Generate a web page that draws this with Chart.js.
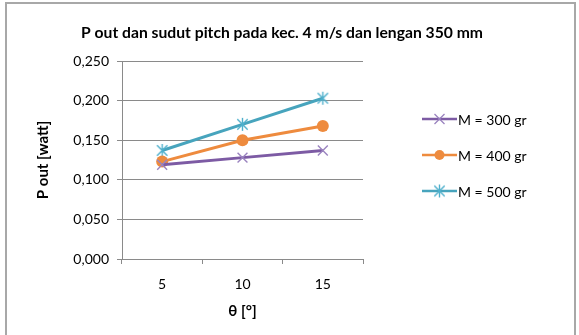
<!DOCTYPE html>
<html>
<head>
<meta charset="utf-8">
<script src="https://cdn.jsdelivr.net/npm/chart.js@4/dist/chart.umd.min.js"></script>
<style>
  html, body { margin: 0; padding: 0; background: #ffffff; }
  #wrap { position: relative; width: 579px; height: 335px; overflow: hidden; }
  #frame { position: absolute; left: 5px; top: 2px; width: 571px; height: 340px;
           border: 2px solid #a8a8a8; box-sizing: border-box; }
  canvas { position: absolute; left: 0; top: 0; }
</style>
</head>
<body>
<div id="wrap">
  <canvas id="c" width="579" height="335"></canvas>
  <div id="frame"></div>
</div>
<script>
// Pitch angle (degrees)
const categories = ['5', '10', '15'];
// Output power (watt) for each load mass
const seriesM300 = [0.119, 0.128, 0.137];
const seriesM400 = [0.123, 0.150, 0.168];
const seriesM500 = [0.137, 0.170, 0.203];
const seriesNames = ['M = 300 gr', 'M = 400 gr', 'M = 500 gr'];
const yTicks = [0, 0.05, 0.10, 0.15, 0.20, 0.25];

const chartTitle = 'P out dan sudut pitch pada kec. 4 m/s dan lengan 350 mm';
const yTitle = 'P out [watt]';
const xTitle = 'θ [°]';

const FONT = 'Lato, "Open Sans", sans-serif';

// Asterisk marker: an X with a vertical stroke through it
function asterisk(color, r) {
  const s = r * 2 + 4;
  const cv = document.createElement('canvas');
  cv.width = s; cv.height = s;
  const g = cv.getContext('2d');
  const c = s / 2;
  g.strokeStyle = color;
  g.lineWidth = 1.4;
  g.beginPath();
  g.moveTo(c - r * 0.8, c - r * 0.8); g.lineTo(c + r * 0.8, c + r * 0.8);
  g.moveTo(c + r * 0.8, c - r * 0.8); g.lineTo(c - r * 0.8, c + r * 0.8);
  g.moveTo(c, c - r); g.lineTo(c, c + r);
  g.stroke();
  return cv;
}

const purple = '#7d5ba4';
const orange = '#ee8b3e';
const teal = '#47a4bd';

const starImg = asterisk('#4fb0cc', 6.5);

// Title, and a legend with a line sample and marker for each series
const decorPlugin = {
  id: 'decor',
  afterDraw(chart) {
    const ctx = chart.ctx;
    const area = chart.chartArea;
    ctx.save();
    ctx.fillStyle = '#000';
    ctx.font = 'bold 15.7px ' + FONT;
    ctx.textAlign = 'center';
    ctx.textBaseline = 'middle';
    ctx.fillText(chartTitle, 282, 33);

    const x0 = area.right + 59;
    const x1 = x0 + 35;
    chart.data.datasets.forEach((ds, i) => {
      const y = area.top + 58 + i * 36;
      ctx.strokeStyle = ds.borderColor;
      ctx.lineWidth = 2.5;
      ctx.beginPath();
      ctx.moveTo(x0, y); ctx.lineTo(x1, y);
      ctx.stroke();
      const cx = (x0 + x1) / 2;
      if (ds.pointStyle === 'circle') {
        ctx.fillStyle = ds.pointBackgroundColor;
        ctx.beginPath();
        ctx.arc(cx, y, 5, 0, Math.PI * 2);
        ctx.fill();
      } else if (ds.pointStyle === 'crossRot') {
        ctx.strokeStyle = ds.pointBorderColor;
        ctx.lineWidth = 1.3;
        ctx.beginPath();
        ctx.moveTo(cx - 5, y - 5); ctx.lineTo(cx + 5, y + 5);
        ctx.moveTo(cx + 5, y - 5); ctx.lineTo(cx - 5, y + 5);
        ctx.stroke();
      } else {
        ctx.drawImage(ds.pointStyle, cx - ds.pointStyle.width / 2, y - ds.pointStyle.height / 2);
      }
      ctx.fillStyle = '#000';
      ctx.font = '14px ' + FONT;
      ctx.textAlign = 'left';
      ctx.fillText(ds.label, x1 + 1, y + 1);
    });
    ctx.restore();
  }
};

new Chart(document.getElementById('c'), {
  type: 'line',
  data: {
    labels: categories,
    datasets: [
      { label: seriesNames[0], data: seriesM300, borderColor: purple, borderWidth: 3,
        pointStyle: 'crossRot', pointRadius: 7, pointBorderColor: '#9a83bf', pointBorderWidth: 1.4,
        pointBackgroundColor: '#9a83bf' },
      { label: seriesNames[1], data: seriesM400, borderColor: orange, borderWidth: 3,
        pointStyle: 'circle', pointRadius: 6, pointBorderColor: orange, pointBorderWidth: 0,
        pointBackgroundColor: orange },
      { label: seriesNames[2], data: seriesM500, borderColor: teal, borderWidth: 3,
        pointStyle: starImg, pointRadius: 7, pointBorderColor: teal, pointBackgroundColor: teal }
    ]
  },
  options: {
    responsive: false,
    animation: false,
    layout: { padding: { left: 0, top: 61, right: 216, bottom: 0 } },
    plugins: {
      legend: { display: false },
      title: { display: false },
      tooltip: { enabled: false }
    },
    scales: {
      x: {
        offset: true,
        grid: { offset: true, drawOnChartArea: false, color: '#8a8a8a', tickLength: 5 },
        border: { color: '#8a8a8a' },
        ticks: { color: '#000', font: { family: FONT, size: 14 }, padding: 12 },
        title: { display: true, text: xTitle, color: '#000',
                 font: { family: FONT, size: 15, weight: 'bold' }, padding: { top: 0, bottom: 15 } },
        afterFit(scale) { scale.height = 76; }
      },
      y: {
        min: 0, max: 0.25,
        afterBuildTicks(scale) { scale.ticks = yTicks.map(v => ({ value: v })); },
        grid: { color: '#8a8a8a', tickLength: 5 },
        border: { color: '#8a8a8a' },
        ticks: { color: '#000', font: { family: FONT, size: 14 }, padding: 8,
                 callback: v => v.toFixed(3).replace('.', ',') },
        title: { display: true, text: yTitle, color: '#000',
                 font: { family: FONT, size: 15, weight: 'bold' }, padding: { top: 34, bottom: 0 } },
        afterFit(scale) { scale.width = 122; }
      }
    }
  },
  plugins: [decorPlugin]
});
</script>
</body>
</html>
